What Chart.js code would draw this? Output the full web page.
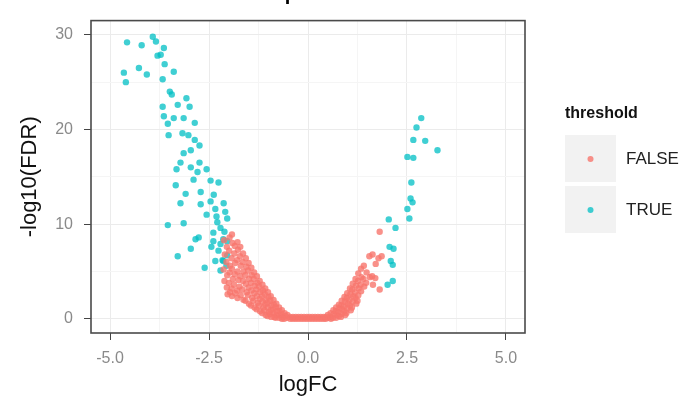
<!DOCTYPE html>
<html lang="en">
<head>
<meta charset="UTF-8">
<title>Volcano plot</title>
<script src="https://cdn.jsdelivr.net/npm/chart.js"></script>
<style>
    body { margin: 0; background: #fff; }
    canvas { display: block; }
</style>
</head>
<body>
<canvas id="volcano" width="695" height="402"></canvas>
<script>
// values: [logFC, -log10(FDR)]
var trueGenes = [
    [-4.57,29.2],[-4.20,28.9],[-3.92,29.8],[-3.84,29.3],[-3.64,28.6],[-3.80,27.8],[-3.72,27.9],
    [-4.65,26.0],[-4.60,25.0],[-4.27,26.5],[-4.07,25.8],[-3.62,26.9],[-3.39,26.1],[-3.67,25.3],
    [-3.49,24.0],[-3.44,23.7],[-3.07,23.3],[-3.29,22.6],[-2.99,22.4],[-3.67,22.4],[-3.14,21.2],
    [-3.64,21.4],[-3.39,21.2],[-3.54,20.6],[-2.86,20.7],[-3.52,19.4],[-3.17,19.6],[-3.02,19.4],
    [-2.86,18.9],[-2.74,18.3],[-2.96,17.8],[-3.14,17.5],[-3.22,16.5],[-2.74,16.5],[-3.32,15.8],
    [-2.96,16.0],[-2.79,15.5],[-2.56,15.8],[-2.89,14.7],[-2.46,14.6],[-2.26,14.4],[-3.34,14.1],
    [-3.09,13.2],[-2.71,13.4],[-2.38,13.1],[-2.46,12.4],[-2.13,12.2],[-3.22,12.2],[-2.71,12.1],
    [-2.34,11.6],[-3.54,9.9],[-3.14,10.1],[-2.29,10.2],[-2.04,10.6],[-2.21,9.6],[-2.39,9.1],
    [-2.84,8.4],[-2.39,8.2],[-2.14,8.4],[-2.96,7.4],[-2.26,7.2],[-3.29,6.6],[-2.04,6.7],
    [-2.16,6.2],[-2.61,5.4],[-2.21,5.1],[-2.14,6.1],[-2.34,6.1],[-2.76,8.6],[-2.21,7.9],
    [-2.04,8.2],[-2.56,11.0],[-2.09,11.3],[-2.31,10.8],[-2.11,9.2],[-2.44,7.6],[-2.06,5.6],
    [2.86,21.2],[2.74,20.2],[2.66,18.9],[2.96,18.8],[3.27,17.8],[2.51,17.1],[2.66,17.0],
    [2.61,14.4],[2.59,12.7],[2.64,12.3],[2.51,11.6],[2.56,10.6],[2.04,10.5],[2.21,9.6],
    [2.06,7.6],[2.16,7.4],[2.09,6.1],[2.14,5.7],[2.14,4.0],[2.01,3.6]
];

var falseGenes = [
    [-2.12,8.3],[-2.10,6.8],[-2.13,5.2],[-2.11,4.0],
    [-2.05,7.6],[-2.06,6.0],[-2.04,4.6],[-2.05,3.3],[-2.03,2.6],
    [-1.98,8.6],[-1.99,7.2],[-1.97,5.6],[-1.98,4.9],[-2.00,3.8],[-1.97,2.8],
    [-1.92,8.9],[-1.91,8.0],[-1.93,6.4],[-1.92,5.3],[-1.90,4.2],[-1.93,3.2],[-1.92,2.4],
    [-1.85,7.7],[-1.86,6.9],[-1.84,5.9],[-1.85,4.7],[-1.87,3.6],[-1.84,2.7],
    [-1.78,8.1],[-1.77,7.3],[-1.79,6.2],[-1.78,5.0],[-1.76,4.1],[-1.79,3.0],[-1.78,2.2],
    [-1.71,7.6],[-1.72,6.6],[-1.70,5.6],[-1.71,4.5],[-1.73,3.4],[-1.70,2.5],
    [-1.64,6.9],[-1.65,6.0],[-1.63,5.0],[-1.64,4.0],[-1.66,3.1],[-1.63,2.0],
    [-1.57,6.4],[-1.56,5.5],[-1.58,4.6],[-1.57,3.7],[-1.55,2.8],[-1.58,1.9],
    [-1.50,5.9],[-1.51,5.1],[-1.49,4.2],[-1.50,3.3],[-1.52,2.5],[-1.49,1.6],
    [-1.43,5.4],[-1.42,4.6],[-1.44,3.8],[-1.43,3.0],[-1.41,2.2],[-1.44,1.4],
    [-1.36,4.9],[-1.37,4.2],[-1.35,3.5],[-1.36,2.7],[-1.38,1.9],[-1.35,1.2],
    [-1.29,4.5],[-1.28,3.8],[-1.30,3.1],[-1.29,2.4],[-1.27,1.7],[-1.30,1.0],
    [-1.22,4.0],[-1.23,3.4],[-1.21,2.8],[-1.22,2.1],[-1.24,1.4],[-1.21,0.8],
    [-1.15,3.6],[-1.14,3.0],[-1.16,2.4],[-1.15,1.8],[-1.13,1.2],[-1.16,0.6],
    [-1.08,3.2],[-1.09,2.6],[-1.07,2.0],[-1.08,1.5],[-1.10,0.9],[-1.07,0.4],
    [-1.01,2.8],[-1.00,2.3],[-1.02,1.7],[-1.01,1.2],[-0.99,0.7],[-1.02,0.3],
    [-0.94,2.4],[-0.95,1.9],[-0.93,1.4],[-0.94,0.9],[-0.96,0.5],[-0.93,0.2],
    [-0.87,2.0],[-0.86,1.5],[-0.88,1.0],[-0.87,0.6],[-0.85,0.2],
    [-0.80,1.6],[-0.81,1.2],[-0.79,0.8],[-0.80,0.4],[-0.82,0.1],
    [-0.73,1.2],[-0.72,0.8],[-0.74,0.4],[-0.73,0.1],
    [-0.66,0.9],[-0.67,0.5],[-0.65,0.2],[-0.66,0.0],
    [-0.59,0.6],[-0.58,0.3],[-0.60,0.0],
    [-0.52,0.4],[-0.53,0.1],
    [-0.45,0.2],[-0.45,0.0],[-0.38,0.2],[-0.38,0.0],[-0.31,0.2],[-0.31,0.0],
    [-0.24,0.2],[-0.24,0.0],[-0.17,0.2],[-0.17,0.0],[-0.10,0.2],[-0.10,0.0],
    [-0.03,0.2],[-0.03,0.0],[0.04,0.2],[0.04,0.0],[0.11,0.2],[0.11,0.0],
    [0.18,0.2],[0.18,0.0],[0.25,0.2],[0.25,0.0],[0.32,0.2],[0.32,0.0],
    [0.39,0.2],[0.39,0.0],[0.45,0.2],[0.45,0.0],
    [0.50,0.4],[0.51,0.1],
    [0.57,0.6],[0.56,0.2],[0.58,0.0],
    [0.64,0.9],[0.65,0.5],[0.63,0.1],
    [0.71,1.2],[0.70,0.8],[0.72,0.4],[0.71,0.1],
    [0.78,1.5],[0.79,1.1],[0.77,0.7],[0.78,0.3],
    [0.85,1.9],[0.84,1.4],[0.86,1.0],[0.85,0.5],[0.83,0.2],
    [0.92,2.3],[0.93,1.8],[0.91,1.3],[0.92,0.8],[0.94,0.4],
    [0.99,2.7],[0.98,2.2],[1.00,1.6],[0.99,1.1],[0.97,0.6],
    [1.06,3.2],[1.07,2.6],[1.05,2.0],[1.06,1.4],[1.08,0.9],
    [1.13,3.7],[1.12,3.1],[1.14,2.4],[1.13,1.8],[1.11,1.2],
    [1.20,4.2],[1.21,3.5],[1.19,2.8],[1.20,2.2],[1.22,1.6],
    [1.27,4.8],[1.26,4.0],[1.28,3.2],[1.27,2.5],[1.25,1.9],
    [1.34,5.3],[1.35,4.4],[1.33,3.6],[1.34,2.9],
    [1.41,5.6],[1.40,4.2],[1.42,3.4],
    [1.48,4.9],[1.47,3.8],
    [1.55,6.6],[1.56,4.4],
    [1.63,6.8],[1.62,4.5],[1.64,3.6],
    [1.71,5.8],[1.70,4.3],
    [1.78,6.4],[1.81,3.1],
    [1.86,6.6],[1.81,9.2]
];

var xTicks = [-5, -3.75, -2.5, -1.25, 0, 1.25, 2.5, 3.75, 5];
var xLabels = [-5, -2.5, 0, 2.5, 5];
var yTicks = [0, 5, 10, 15, 20, 25, 30];
var yLabels = [0, 10, 20, 30];

var falseColor = 'rgba(248,118,109,0.8)';
var trueColor = 'rgba(0,191,196,0.75)';

function toPoints(list) {
    return list.map(function (p) { return { x: p[0], y: p[1] }; });
}

function isMajor(list, v) {
    return list.some(function (m) { return Math.abs(m - v) < 1e-6; });
}

// panel border, cut-off title and ggplot-like legend
var decorPlugin = {
    id: 'decor',
    afterDraw: function (chart) {
        var c = chart.ctx;
        var a = chart.chartArea;
        c.save();
        c.strokeStyle = '#4a4a4a';
        c.lineWidth = 1.6;
        c.strokeRect(a.left, a.top, a.right - a.left, a.bottom - a.top);

        c.fillStyle = '#000';
        c.font = 'bold 20px "Liberation Sans", Arial, sans-serif';
        c.textBaseline = 'alphabetic';
        c.textAlign = 'left';
        c.fillText('Volcano plot', 203, 0);

        c.fillStyle = '#111';
        c.font = 'bold 16px "Liberation Sans", Arial, sans-serif';
        c.textBaseline = 'middle';
        c.fillText('threshold', 565, 114);

        var keys = [['FALSE', falseColor, 135], ['TRUE', trueColor, 186]];
        keys.forEach(function (k) {
            c.fillStyle = '#f2f2f2';
            c.fillRect(565, k[2], 51, 47);
            c.fillStyle = k[1];
            c.beginPath();
            c.arc(590.5, k[2] + 24, 3, 0, Math.PI * 2);
            c.fill();
            c.fillStyle = '#222';
            c.font = '17px "Liberation Sans", Arial, sans-serif';
            c.fillText(k[0], 626, k[2] + 24);
        });
        c.restore();
    }
};

var ctx = document.getElementById('volcano').getContext('2d');
var volcano = new Chart(ctx, {
    type: 'scatter',
    data: {
        datasets: [{
            label: 'FALSE',
            data: toPoints(falseGenes),
            backgroundColor: falseColor,
            borderWidth: 0,
            pointRadius: 3.2
        }, {
            label: 'TRUE',
            data: toPoints(trueGenes),
            backgroundColor: trueColor,
            borderWidth: 0,
            pointRadius: 3.2
        }]
    },
    options: {
        responsive: false,
        animation: false,
        layout: { padding: { left: 0, right: 170, top: 6, bottom: 0 } },
        plugins: {
            legend: { display: false },
            tooltip: { enabled: false },
            title: { display: false }
        },
        scales: {
            x: {
                type: 'linear',
                min: -5.48,
                max: 5.48,
                afterBuildTicks: function (s) {
                    s.ticks = xTicks.map(function (v) { return { value: v }; });
                },
                afterFit: function (s) { s.height = 69; },
                border: { display: false },
                grid: {
                    color: function (c) { return c.tick && isMajor(xLabels, c.tick.value) ? '#ebebeb' : '#f5f5f5'; },
                    tickColor: function (c) { return c.tick && isMajor(xLabels, c.tick.value) ? '#444' : 'rgba(0,0,0,0)'; },
                    tickLength: 7,
                    lineWidth: 1
                },
                ticks: {
                    autoSkip: false,
                    maxRotation: 0,
                    padding: 9,
                    color: '#8a8a8a',
                    font: { size: 16, family: '"Liberation Sans", Arial, sans-serif' },
                    callback: function (v) { return isMajor(xLabels, v) ? v.toFixed(1) : ''; }
                },
                title: {
                    display: true,
                    text: 'logFC',
                    color: '#111',
                    padding: { top: 0, bottom: 4 },
                    font: { size: 22, family: '"Liberation Sans", Arial, sans-serif' }
                }
            },
            y: {
                type: 'linear',
                min: -1.5,
                max: 31.5,
                afterBuildTicks: function (s) {
                    s.ticks = yTicks.map(function (v) { return { value: v }; });
                },
                afterFit: function (s) { s.width = 91; },
                border: { display: false },
                grid: {
                    color: function (c) { return c.tick && isMajor(yLabels, c.tick.value) ? '#ebebeb' : '#f5f5f5'; },
                    tickColor: function (c) { return c.tick && isMajor(yLabels, c.tick.value) ? '#444' : 'rgba(0,0,0,0)'; },
                    tickLength: 7,
                    lineWidth: 1
                },
                ticks: {
                    autoSkip: false,
                    padding: 11,
                    color: '#8a8a8a',
                    font: { size: 16, family: '"Liberation Sans", Arial, sans-serif' },
                    callback: function (v) { return isMajor(yLabels, v) ? String(v) : ''; }
                },
                title: {
                    display: true,
                    text: '-log10(FDR)',
                    color: '#111',
                    padding: { top: 17, bottom: 0 },
                    font: { size: 22, family: '"Liberation Sans", Arial, sans-serif' }
                }
            }
        }
    },
    plugins: [decorPlugin]
});
</script>
</body>
</html>
